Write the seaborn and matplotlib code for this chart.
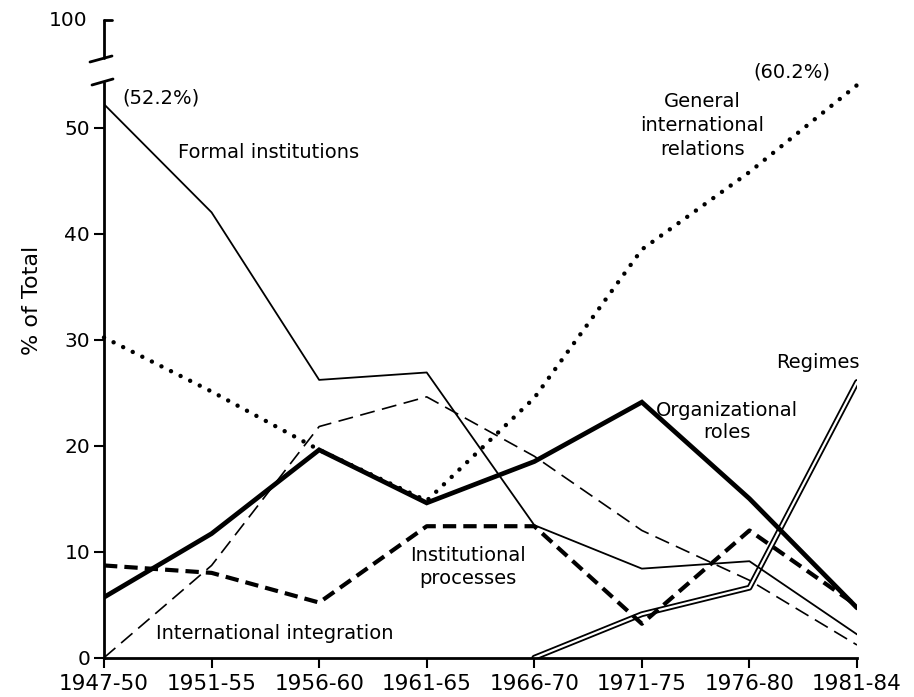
import numpy as np
import pandas as pd
import seaborn as sns
import matplotlib.pyplot as plt
from matplotlib.lines import Line2D

periods = ["1947-50", "1951-55", "1956-60", "1961-65", "1966-70", "1971-75", "1976-80", "1981-84"]

formal_institutions = [52.2, 42.0, 26.2, 26.9, 12.5, 8.4, 9.1, 2.2]
general_relations = [30.2, 25.1, 19.6, 14.8, 24.5, 38.5, 45.8, 54.0]
organizational_roles = [5.7, 11.7, 19.6, 14.6, 18.5, 24.1, 15.0, 4.7]
international_integration = [0.0, 8.7, 21.8, 24.6, 19.0, 12.0, 7.3, 1.2]
institutional_processes = [8.7, 8.0, 5.2, 12.4, 12.4, 3.2, 12.0, 4.9]
regimes = [np.nan, np.nan, np.nan, np.nan, 0.0, 4.1, 6.6, 26.0]

W, H = 914, 697
sns.set_theme(style="ticks")
plt.rcParams["font.family"] = ["DejaVu Sans"]
plt.rcParams["text.color"] = "black"

fig = plt.figure(figsize=(W / 100, H / 100), dpi=100)
ax = fig.add_axes([104 / W, 1 - 657.7 / H, (857 - 104) / W, (657.7 - 83) / H])

df = pd.DataFrame({
    "period": np.arange(len(periods)),
    "formal": formal_institutions,
    "general": general_relations,
    "org": organizational_roles,
    "integration": international_integration,
    "processes": institutional_processes,
    "regimes": regimes,
})

# double line for regimes: black line with white core
sns.lineplot(data=df, x="period", y="regimes", ax=ax, color="black", lw=4.2)
sns.lineplot(data=df, x="period", y="regimes", ax=ax, color="white", lw=1.6)
sns.lineplot(data=df, x="period", y="formal", ax=ax, color="black", lw=1.3)
sns.lineplot(data=df, x="period", y="integration", ax=ax, color="black", lw=1.2)
ax.lines[-1].set_dashes((9, 4.5))
sns.lineplot(data=df, x="period", y="processes", ax=ax, color="black", lw=3.0)
ax.lines[-1].set_dashes((3.2, 1.7))
sns.lineplot(data=df, x="period", y="general", ax=ax, color="black", lw=3.2,
             clip_on=False)
ax.lines[-1].set_dashes((0.01, 2.4))
ax.lines[-1].set_dash_capstyle("round")
sns.lineplot(data=df, x="period", y="org", ax=ax, color="black", lw=3.4,
             solid_joinstyle="miter")

ax.set_xlim(0, 7)
ax.set_ylim(0, 54.2)
ax.set_xticks(range(len(periods)))
ax.set_xticklabels(periods, fontsize=15.5)
ax.set_yticks([0, 10, 20, 30, 40, 50])
ax.tick_params(axis="y", labelsize=14.5, length=7, width=1.5, direction="out", pad=3,
               labelcolor="black", color="black")
ax.tick_params(axis="x", length=7, width=1.5, direction="out", pad=5,
               labelcolor="black", color="black")
ax.set_xlabel("")
ax.set_ylabel("")
for side in ["top", "right"]:
    ax.spines[side].set_visible(False)
for side in ["left", "bottom"]:
    ax.spines[side].set_linewidth(2)
    ax.spines[side].set_color("black")
fig.text(32 / W, 1 - 300 / H, "% of Total", rotation=90, ha="center", va="center",
         fontsize=16, color="black")

# axis break and 100 label
def px_line(xs, ys, lw=2):
    fig.add_artist(Line2D([x / W for x in xs], [1 - y / H for y in ys],
                          color="black", lw=lw, transform=fig.transFigure))

px_line([104, 104], [20, 58])
px_line([104, 112], [20, 20])
px_line([90, 112], [62, 56])
px_line([92, 113], [85, 79])
fig.text(87 / W, 1 - 20 / H, "100", ha="right", va="center", fontsize=14.5, color="black")

lab = dict(fontsize=14, color="black", clip_on=False)
ax.text(0.17, 52.8, "(52.2%)", ha="left", va="center", **lab)
ax.text(0.69, 47.6, "Formal institutions", ha="left", va="center", **lab)
ax.text(5.56, 50.2, "General\ninternational\nrelations", ha="center", va="center",
        linespacing=1.35, **lab)
ax.text(6.39, 55.2, "(60.2%)", ha="center", va="center", **lab)
ax.text(6.64, 27.8, "Regimes", ha="center", va="center", **lab)
ax.text(5.79, 22.3, "Organizational\nroles", ha="center", va="center", linespacing=1.2, **lab)
ax.text(3.38, 8.55, "Institutional\nprocesses", ha="center", va="center", linespacing=1.3, **lab)
ax.text(1.59, 2.3, "International integration", ha="center", va="center", **lab)

fig.savefig("out.png", dpi=100)
